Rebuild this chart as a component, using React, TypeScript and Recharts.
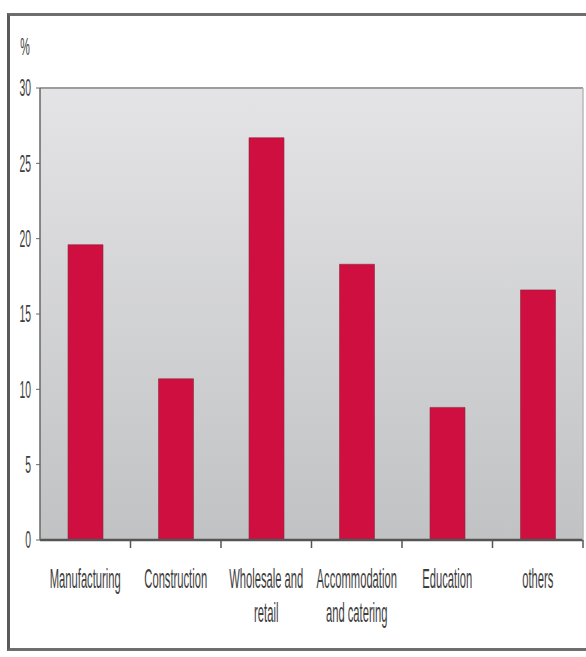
import { Bar, BarChart, CartesianGrid, ReferenceLine, XAxis, YAxis } from 'recharts';

const categoryLines = [
  ['Manufacturing'],
  ['Construction'],
  ['Wholesale and', 'retail'],
  ['Accommodation', 'and catering'],
  ['Education'],
  ['others'],
];
const shares = [19.6, 10.7, 26.7, 18.3, 8.8, 16.6];
const yTicks = [0, 5, 10, 15, 20, 25, 30];

const data = categoryLines.map((lines, i) => ({ name: lines.join(' '), share: shares[i] }));

const FONT = '"Liberation Sans", Arial, sans-serif';
const SQUEEZE = 0.4;
const INK = '#3e3e3e';

// eslint-disable-next-line @typescript-eslint/no-explicit-any
function CategoryTick(props: any) {
  const { x, y, payload, index, width } = props;
  const half = payload?.offset ?? width / categoryLines.length / 2;
  const lines = categoryLines[index] || [String(payload.value)];
  return (
    <g>
      <line x1={x + half} x2={x + half} y1={y - 8} y2={y} stroke="#555" strokeWidth={1.5} />
      {lines.map((line, i) => (
        <g key={line} transform={`translate(${x},${y + 40 + i * 34}) scale(${SQUEEZE},1)`}>
          <text x={0} y={0} textAnchor="middle" fontSize={28} fontFamily={FONT} fill={INK}>
            {line}
          </text>
        </g>
      ))}
    </g>
  );
}

// eslint-disable-next-line @typescript-eslint/no-explicit-any
function ValueTick(props: any) {
  const { x, y, payload } = props;
  return (
    <g transform={`translate(${x - 3},${y}) scale(0.45,1)`}>
      <text x={0} y={0} dy="0.36em" textAnchor="end" fontSize={23} fontFamily={FONT} fill={INK}>
        {payload.value}
      </text>
    </g>
  );
}

// eslint-disable-next-line @typescript-eslint/no-explicit-any
function UnitLabel(props: any) {
  const { viewBox } = props;
  return (
    <g transform={`translate(${viewBox.x + 25},${viewBox.y - 33}) scale(0.45,1)`}>
      <text x={0} y={0} textAnchor="middle" fontSize={24} fontFamily={FONT} fill={INK}>
        %
      </text>
    </g>
  );
}

export default function App() {
  return (
    <div style={{ position: 'absolute', left: 0, top: 0, width: 586, height: 657, overflow: 'hidden', background: '#fff' }}>
      <svg width={0} height={0} style={{ position: 'absolute' }}>
        <defs>
          <linearGradient id="plotBg" x1="0" y1="0" x2="0" y2="1">
            <stop offset="0%" stopColor="#e4e4e6" />
            <stop offset="100%" stopColor="#c1c2c4" />
          </linearGradient>
        </defs>
      </svg>
      <div
        style={{
          position: 'absolute',
          left: 7,
          top: 13,
          width: 620,
          height: 632,
          borderLeft: '3px solid #5a5a5a',
          borderTop: '3px solid #6e6e6e',
          borderBottom: '3px solid #6e6e6e',
        }}
      />
      <div style={{ position: 'absolute', left: 0, top: 0 }}>
        <BarChart width={586} height={657} data={data} margin={{ top: 88, right: 0, left: 0, bottom: 0 }} barSize={35}>
          <CartesianGrid horizontal={false} vertical={false} fill="url(#plotBg)" fillOpacity={1} />
          <XAxis
            dataKey="name"
            height={117}
            interval={0}
            tickSize={8}
            tickMargin={0}
            tickLine={false}
            axisLine={{ stroke: '#555', strokeWidth: 2.5 }}
            tick={<CategoryTick />}
          />
          <YAxis
            domain={[0, 30]}
            ticks={yTicks}
            width={40}
            tickSize={4}
            tickLine={{ stroke: '#666' }}
            axisLine={{ stroke: '#666', strokeWidth: 1.5 }}
            tick={<ValueTick />}
            label={{ content: <UnitLabel /> }}
          />
          <YAxis
            yAxisId="frame"
            orientation="right"
            domain={[0, 30]}
            width={3}
            tick={false}
            tickLine={false}
            axisLine={{ stroke: '#b8b8b8', strokeWidth: 1.5 }}
          />
          <ReferenceLine y={30} stroke="#9c9c9c" strokeWidth={2} />
          <Bar dataKey="share" fill="#cf0f3f" stroke="#8c2a40" strokeWidth={0.6} isAnimationActive={false} />
        </BarChart>
      </div>
    </div>
  );
}
